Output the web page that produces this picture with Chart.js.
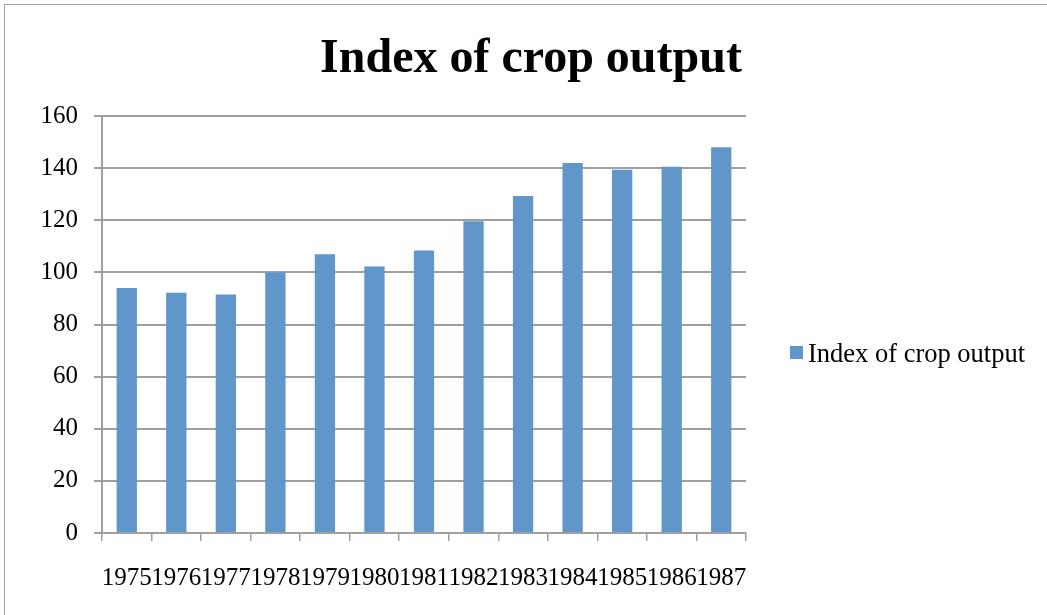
<!DOCTYPE html>
<html>
<head>
<meta charset="utf-8">
<script src="https://cdn.jsdelivr.net/npm/chart.js@4.4.1/dist/chart.umd.min.js"></script>
<style>
    html, body { margin: 0; padding: 0; background: #fff; }
    #wrap { position: relative; width: 1047px; height: 615px; overflow: hidden; }
    #frame { position: absolute; left: 4px; top: 4px; width: 1100px; height: 640px;
             border: 1.5px solid #a3a3a3; box-sizing: border-box; }
    canvas { position: absolute; left: 0; top: 0; }
</style>
</head>
<body>
<div id="wrap">
    <div id="frame"></div>
    <canvas id="crop-chart" width="1047" height="615"></canvas>
</div>
<script>
const years = ['1975', '1976', '1977', '1978', '1979', '1980', '1981',
               '1982', '1983', '1984', '1985', '1986', '1987'];
const cropIndex = [94, 92.2, 91.5, 100, 107, 102.3, 108.4, 119.6, 129.3, 142, 139.4, 140.5, 148];
const seriesName = 'Index of crop output';
const chartTitle = 'Index of crop output';

const barColor = '#6096ca';
const gridColor = '#9f9f9f';
const serif = "'Liberation Serif', 'Times New Roman', serif";

// title and legend are drawn by hand so they sit where the original had them
const decorations = {
    id: 'decorations',
    afterDraw(chart) {
        const c = chart.ctx;
        c.save();
        c.fillStyle = '#000';
        c.font = 'bold 48px ' + serif;
        c.textAlign = 'center';
        c.textBaseline = 'middle';
        c.fillText(chartTitle, 531, 60);

        c.fillStyle = barColor;
        c.fillRect(790, 346, 13, 13);
        c.fillStyle = '#000';
        c.font = '26.5px ' + serif;
        c.textAlign = 'left';
        c.fillText(chart.data.datasets[0].label, 808, 355);
        c.restore();
    }
};

const ctx = document.getElementById('crop-chart').getContext('2d');
new Chart(ctx, {
    type: 'bar',
    data: {
        labels: years,
        datasets: [{
            label: seriesName,
            data: cropIndex,
            backgroundColor: barColor,
            borderWidth: 0,
            barPercentage: 0.41,
            categoryPercentage: 1
        }]
    },
    options: {
        responsive: false,
        animation: false,
        layout: {
            padding: { left: 0, top: 116, right: 301, bottom: 0 }
        },
        scales: {
            x: {
                afterFit: (scale) => { scale.height = 82; },
                grid: {
                    drawOnChartArea: false,
                    color: gridColor,
                    lineWidth: 1.5,
                    tickLength: 8
                },
                border: { color: gridColor, width: 2 },
                ticks: {
                    color: '#000',
                    font: { family: serif, size: 25 },
                    padding: 22,
                    maxRotation: 0,
                    autoSkip: false
                }
            },
            y: {
                min: 0,
                max: 160,
                afterFit: (scale) => { scale.width = 102; },
                grid: {
                    color: gridColor,
                    lineWidth: 2,
                    tickLength: 8
                },
                border: { color: gridColor, width: 2 },
                ticks: {
                    stepSize: 20,
                    color: '#000',
                    font: { family: serif, size: 25 },
                    padding: 16
                }
            }
        },
        plugins: {
            legend: { display: false },
            title: { display: false },
            tooltip: { enabled: false }
        }
    },
    plugins: [decorations]
});
</script>
</body>
</html>
